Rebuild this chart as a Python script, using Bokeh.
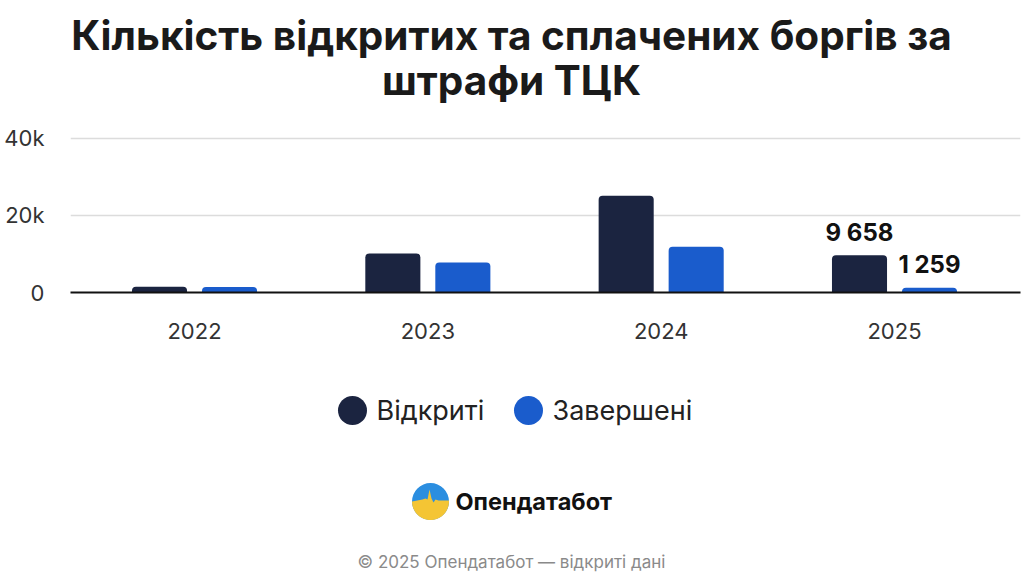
import numpy as np
from bokeh.plotting import figure
from bokeh.models import Range1d, FixedTicker, ColumnDataSource, Label
from bokeh.transform import dodge
from bokeh.layouts import column
from bokeh.core.properties import value
from bokeh.embed import file_html
from bokeh.resources import INLINE

# ---------------- data ----------------
years = ["2022", "2023", "2024", "2025"]
opened = [1500, 10100, 25100, 9658]      # Відкриті
closed = [1450, 7800, 11900, 1259]       # Завершені
series_names = ["Відкриті", "Завершені"]
y_ticks = [0, 20000, 40000]
y_tick_labels = ["0", "20k", "40k"]
labeled_years = ["2025"]
title_lines = ["Кількість відкритих та сплачених боргів за", "штрафи ТЦК"]
brand = "Опендатабот"
footer = "© 2025 Опендатабот — відкриті дані"

NAVY = "#1b2440"
BLUE = "#1a5ccc"
W = 1024
LEFT, RIGHT = 70, 4   # borders shared by all stacked figures (frames get aligned)


def blank(h):
    f = figure(width=W, height=h, output_backend="svg", toolbar_location=None,
               x_range=Range1d(LEFT, W - RIGHT), y_range=Range1d(h, 0),
               x_axis_location=None, y_axis_location=None,
               min_border=0, min_border_left=LEFT, min_border_right=RIGHT,
               min_border_top=0, min_border_bottom=0)
    f.grid.visible = False
    f.outline_line_color = None
    f.background_fill_color = "white"
    f.border_fill_color = "white"
    return f


def label(fig, x, y, text, size, color, bold=False, align="center"):
    fig.add_layout(Label(x=x, y=y, text=text, text_font="Inter",
                         text_font_size=size, text_color=color,
                         text_font_style="bold" if bold else "normal",
                         text_align=align, text_baseline="middle"))


# ---------------- title (page y 0..106) ----------------
t = blank(106)
label(t, 511, 35, title_lines[0], "40.5px", "#1a1a1a", bold=True)
label(t, 511, 80, title_lines[1], "40.5px", "#1a1a1a", bold=True)

# ---------------- chart (page y 106..370) ----------------
xs = list(range(len(years)))
src = ColumnDataSource(dict(x=xs, opened=opened, closed=closed))

p = figure(width=W, height=264, output_backend="svg", toolbar_location=None,
           x_range=Range1d(-0.5315, 3.540), y_range=Range1d(0, 41000),
           min_border_left=LEFT, min_border_right=RIGHT, min_border_top=28,
           min_border_bottom=78)
p.outline_line_color = None
p.background_fill_color = "white"
p.border_fill_color = "white"

p.vbar(x=dodge("x", -0.15, range=p.x_range), top="opened", width=0.236,
       source=src, fill_color=NAVY, line_color=None, border_radius=[4, 4, 0, 0])
p.vbar(x=dodge("x", 0.15, range=p.x_range), top="closed", width=0.236,
       source=src, fill_color=BLUE, line_color=None, border_radius=[4, 4, 0, 0])

lab_x, lab_y, lab_t = [], [], []
for yr in labeled_years:
    i = years.index(yr)
    for off, v in ((-0.15, opened[i]), (0.15, closed[i])):
        lab_x.append(i + off)
        lab_y.append(v)
        lab_t.append(f"{v:,}".replace(",", " "))
lsrc = ColumnDataSource(dict(x=lab_x, y=lab_y, t=lab_t))
p.text(x="x", y="y", text="t", source=lsrc, text_font=value("Inter"),
       text_font_style="bold", text_font_size="24px", text_color="#111111",
       text_align="center", text_baseline="alphabetic", y_offset=-23)

p.yaxis.ticker = FixedTicker(ticks=y_ticks)
p.yaxis.major_label_overrides = {k: v for k, v in zip(y_ticks, y_tick_labels)}
p.yaxis.axis_line_color = None
p.yaxis.major_tick_line_color = None
p.yaxis.minor_tick_line_color = None
p.yaxis.major_tick_out = 0
p.yaxis.minor_tick_out = 0
p.yaxis.major_label_standoff = 26
p.yaxis.major_label_text_font = "Inter"
p.yaxis.major_label_text_font_size = "22px"
p.yaxis.major_label_text_color = "#333333"

p.xaxis.ticker = FixedTicker(ticks=xs)
p.xaxis.major_label_overrides = {i: y for i, y in zip(xs, years)}
p.xaxis.axis_line_color = "#111111"
p.xaxis.axis_line_width = 2
p.xaxis.major_tick_line_color = None
p.xaxis.minor_tick_line_color = None
p.xaxis.major_tick_out = 0
p.xaxis.minor_tick_out = 0
p.xaxis.major_label_standoff = 30
p.xaxis.major_label_text_font = "Inter"
p.xaxis.major_label_text_font_size = "22px"
p.xaxis.major_label_text_color = "#333333"

p.xgrid.grid_line_color = None
p.ygrid.ticker = FixedTicker(ticks=y_ticks)
p.ygrid.grid_line_color = "#dcdcdc"
p.ygrid.grid_line_width = 1.5

# ---------------- legend, logo, footer (page y 370..576) ----------------
q = blank(206)
q.scatter(x=[352, 528], y=[40, 40], size=29, marker="circle",
          fill_color=[NAVY, BLUE], line_color=None)
label(q, 376, 40, series_names[0], "27px", "#222222", align="left")
label(q, 552, 40, series_names[1], "27px", "#222222", align="left")

# brand logo: blue disc with a yellow lower part and a pulse-like spike
cx, cy, r = 430, 131, 18.5
q.scatter(x=[cx], y=[cy], size=2 * r, marker="circle", fill_color="#2b8ee0", line_color=None)
ang = np.linspace(0, np.pi, 48)
arc_x = list(cx + r * np.cos(ang))
arc_y = list(cy + r * np.sin(ang))
top_dx = [-8, -5, -3, -1, 1, 3, 5, 8, 18.5]
top_dy = [-2, -3, -2, -12, -3, 1, -2, -1, -1]
q.patch(x=arc_x + [cx + d for d in top_dx], y=arc_y + [cy + d for d in top_dy],
        fill_color="#f4c534", line_color=None)
label(q, 455, 131, brand, "23.5px", "#111111", bold=True, align="left")
label(q, 511, 191, footer, "17px", "#8a8a8a")

layout = column(t, p, q, spacing=0)
open("out.html", "w").write(file_html(layout, INLINE))
